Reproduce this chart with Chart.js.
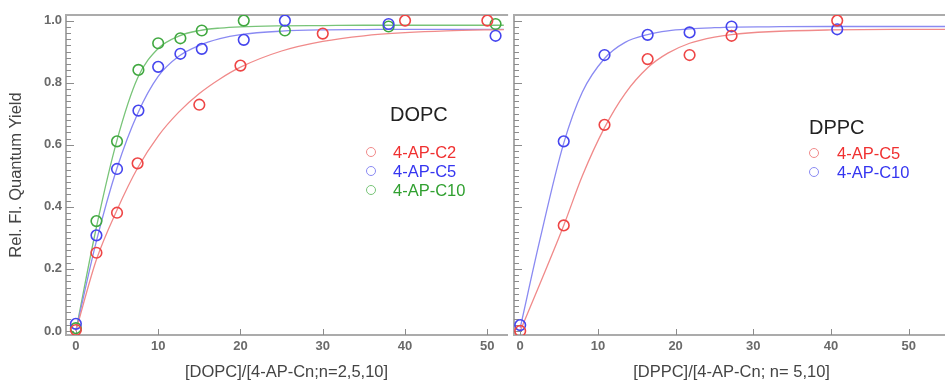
<!DOCTYPE html>
<html><head><meta charset="utf-8">
<script src="https://cdn.jsdelivr.net/npm/chart.js@4.4.1/dist/chart.umd.min.js"></script>
<style>
html,body{margin:0;padding:0;background:#fff;width:945px;height:382px;overflow:hidden;position:relative;font-family:"Liberation Sans",Arial,sans-serif;}
.cv{position:absolute;top:0;}
.lg{position:absolute;white-space:nowrap;}
.t{font-size:20px;line-height:20px;color:#222;}
.e{font-size:16.5px;line-height:16.5px;}
.c{position:absolute;width:8px;height:8px;border-radius:50%;border:1.5px solid;}
</style></head><body>
<div class="cv" style="left:0;width:514px;height:382px"><canvas id="c1" width="514" height="382"></canvas></div>
<div class="cv" style="left:504px;width:452px;height:382px"><canvas id="c2" width="452" height="382"></canvas></div>
<div id="legends"></div>
<script>
// ---- tick labels ----
const xTicks = [0, 10, 20, 30, 40, 50];
const yTicks = [0, 0.2, 0.4, 0.6, 0.8, 1.0];

// ---- DOPC panel (left) ----
const dopcLabels = ['4-AP-C2', '4-AP-C5', '4-AP-C10'];
const dopcC2X = [0, 2.5, 5, 7.5, 15, 20, 30, 40, 50];
const dopcC2Y = [0.003, 0.252, 0.381, 0.540, 0.729, 0.855, 0.958, 1.0, 1.0];
const dopcC5X = [0, 2.5, 5, 7.6, 10, 12.7, 15.3, 20.4, 25.4, 38, 51];
const dopcC5Y = [0.023, 0.308, 0.522, 0.710, 0.851, 0.893, 0.909, 0.938, 1.0, 0.989, 0.951];
const dopcC10X = [0, 2.5, 5, 7.6, 10, 12.7, 15.3, 20.4, 25.4, 38, 51];
const dopcC10Y = [0.009, 0.354, 0.611, 0.841, 0.927, 0.943, 0.968, 1.0, 0.968, 0.981, 0.989];
// fitted curves
const dopcFitX = [0, 2.5, 5, 7.5, 10, 12.5, 15, 17.5, 20, 25, 30, 35, 40, 45, 52];
const dopcC2Fit = [0, 0.23, 0.39, 0.525, 0.628, 0.705, 0.765, 0.812, 0.85, 0.902, 0.933, 0.951, 0.961, 0.967, 0.971];
const dopcC5Fit = [0, 0.29, 0.525, 0.70, 0.82, 0.885, 0.92, 0.942, 0.955, 0.966, 0.97, 0.971, 0.972, 0.972, 0.972];
const dopcC10Fit = [0, 0.335, 0.615, 0.815, 0.91, 0.95, 0.968, 0.976, 0.98, 0.983, 0.984, 0.985, 0.985, 0.985, 0.985];

// ---- DPPC panel (right) ----
const dppcLabels = ['4-AP-C5', '4-AP-C10'];
const dppcC5X = [0, 5.6, 10.85, 16.4, 21.8, 27.2, 40.8];
const dppcC5Y = [0.0, 0.340, 0.664, 0.876, 0.889, 0.951, 1.0];
const dppcC10X = [0, 5.6, 10.85, 16.4, 21.8, 27.2, 40.8];
const dppcC10Y = [0.019, 0.611, 0.889, 0.954, 0.962, 0.981, 0.972];
const dppcFitX = [0, 2.5, 5.6, 8, 10.85, 13.5, 16.4, 19, 21.8, 25, 27.2, 32, 40, 48, 56];
const dppcC5Fit = [0, 0.15, 0.34, 0.50, 0.655, 0.765, 0.848, 0.895, 0.927, 0.947, 0.955, 0.964, 0.97, 0.972, 0.972];
const dppcC10Fit = [0.01, 0.29, 0.605, 0.77, 0.878, 0.93, 0.955, 0.967, 0.973, 0.977, 0.979, 0.98, 0.981, 0.981, 0.981];

// ---- styling ----
const FONT = '"Liberation Sans", Arial, sans-serif';
const markRed = '#ee4545', markBlue = '#4545ee', markGreen = '#40a840';
const lineRed = '#f08a8a', lineBlue = '#8a8af2', lineGreen = '#78c478';
const textRed = '#f03030', textBlue = '#3535f0', textGreen = '#30a030';
const frameColor = '#ababab';

function pts(xs, ys) { return xs.map((x, i) => ({ x: x, y: ys[i] })); }

function scatterDs(label, xs, ys, color) {
  return { type: 'scatter', label: label, data: pts(xs, ys), showLine: false, order: 0,
    pointStyle: 'circle', pointRadius: 5.3, pointBorderWidth: 1.6,
    pointBorderColor: color, pointBackgroundColor: 'rgba(0,0,0,0)', borderColor: color };
}
function fitDs(xs, ys, color) {
  return { type: 'line', data: pts(xs, ys), showLine: true, order: 1, pointRadius: 0,
    borderColor: color, borderWidth: 1.3, fill: false, cubicInterpolationMode: 'monotone' };
}

const framePlugin = {
  id: 'frame',
  beforeDatasetsDraw(chart) {
    const { ctx, chartArea: a, scales: { x, y } } = chart;
    ctx.save();
    ctx.strokeStyle = frameColor;
    ctx.lineWidth = 2;
    ctx.beginPath();
    ctx.moveTo(a.left - 1, a.top);
    ctx.lineTo(a.right + 1, a.top);
    ctx.stroke();
    ctx.strokeStyle = '#8c8c8c';
    ctx.lineWidth = 1;
    ctx.beginPath();
    // y ticks: majors at yTicks, 10 minors per interval
    for (let i = 0; i < yTicks.length; i++) {
      const v0 = yTicks[i];
      const py = Math.round(y.getPixelForValue(v0)) + 0.5;
      ctx.moveTo(a.left, py); ctx.lineTo(a.left + 8, py);
      if (i < yTicks.length - 1) {
        const step = (yTicks[i + 1] - v0) / 10;
        for (let k = 1; k < 10; k++) {
          const pm = Math.round(y.getPixelForValue(v0 + k * step)) + 0.5;
          ctx.moveTo(a.left, pm); ctx.lineTo(a.left + 5, pm);
        }
      }
    }
    xTicks.forEach(v => {
      const px = Math.round(x.getPixelForValue(v)) + 0.5;
      ctx.moveTo(px, a.bottom); ctx.lineTo(px, a.bottom - 6);
    });
    ctx.stroke();
    ctx.restore();
  }
};

function baseOptions(xMin, xMax, xTitle, yAxisWidth, showY) {
  return {
    responsive: false, animation: false, devicePixelRatio: 1,
    layout: { padding: { top: 15, right: showY ? 1 : 0, left: 0, bottom: 0 } },
    plugins: { legend: { display: false }, tooltip: { enabled: false } },
    scales: {
      x: {
        type: 'linear', min: xMin, max: xMax,
        afterBuildTicks: s => { s.ticks = xTicks.map(v => ({ value: v })); },
        afterFit: s => { s.height = 47; },
        grid: { display: false, drawTicks: false },
        border: { display: true, color: frameColor, width: 2 },
        ticks: { font: { family: FONT, size: 13, weight: 'bold' }, color: '#6a6a6a', padding: 4, maxRotation: 0 },
        title: { display: true, text: xTitle, color: '#444', font: { family: FONT, size: 16.5 }, padding: { top: 0, bottom: 0 } }
      },
      y: {
        type: 'linear', min: -0.013, max: 1.018,
        afterBuildTicks: s => { s.ticks = yTicks.map(v => ({ value: v })); },
        afterFit: s => { s.width = yAxisWidth; },
        grid: { display: false, drawTicks: false },
        border: { display: true, color: frameColor, width: 2 },
        ticks: { display: showY, font: { family: FONT, size: 13, weight: 'bold' }, color: '#6a6a6a', padding: 4,
          callback: v => Number(v).toFixed(1) },
        title: { display: showY, text: 'Rel. Fl. Quantum Yield', color: '#444',
          font: { family: FONT, size: 16.5 }, padding: { top: 7, bottom: 0 } }
      }
    }
  };
}

new Chart(document.getElementById('c1'), {
  type: 'scatter',
  data: { datasets: [
    scatterDs(dopcLabels[0], dopcC2X, dopcC2Y, markRed),
    scatterDs(dopcLabels[1], dopcC5X, dopcC5Y, markBlue),
    scatterDs(dopcLabels[2], dopcC10X, dopcC10Y, markGreen),
    fitDs(dopcFitX, dopcC2Fit, lineRed),
    fitDs(dopcFitX, dopcC5Fit, lineBlue),
    fitDs(dopcFitX, dopcC10Fit, lineGreen)
  ] },
  options: baseOptions(-1.2, 52.4, '[DOPC]/[4-AP-Cn;n=2,5,10]', 66, true),
  plugins: [framePlugin]
});

new Chart(document.getElementById('c2'), {
  type: 'scatter',
  data: { datasets: [
    scatterDs(dppcLabels[0], dppcC5X, dppcC5Y, markRed),
    scatterDs(dppcLabels[1], dppcC10X, dppcC10Y, markBlue),
    fitDs(dppcFitX, dppcC5Fit, lineRed),
    fitDs(dppcFitX, dppcC10Fit, lineBlue)
  ] },
  options: baseOptions(-0.8, 55.2, '[DPPC]/[4-AP-Cn; n= 5,10]', 10, false),
  plugins: [framePlugin]
});

// ---- legends (HTML text) ----
function legend(title, tx, ty, labels, textColors, markColors, ex, cx, ey0) {
  const root = document.getElementById('legends');
  const t = document.createElement('div');
  t.className = 'lg t'; t.style.left = tx + 'px'; t.style.top = ty + 'px'; t.textContent = title;
  root.appendChild(t);
  labels.forEach((lab, i) => {
    const cy = ey0 + i * 19;
    const e = document.createElement('div');
    e.className = 'lg e'; e.style.left = ex + 'px'; e.style.top = (cy - 8) + 'px';
    e.style.color = textColors[i]; e.textContent = lab;
    root.appendChild(e);
    const c = document.createElement('div');
    c.className = 'c'; c.style.left = (cx - 5.5) + 'px'; c.style.top = (cy - 5.5) + 'px';
    c.style.borderColor = markColors[i];
    root.appendChild(c);
  });
}
legend('DOPC', 390, 104, dopcLabels, [textRed, textBlue, textGreen], [lineRed, lineBlue, lineGreen], 393, 371, 152);
legend('DPPC', 809, 117, dppcLabels, [textRed, textBlue], [lineRed, lineBlue], 837, 814, 153);
</script>
</body></html>
